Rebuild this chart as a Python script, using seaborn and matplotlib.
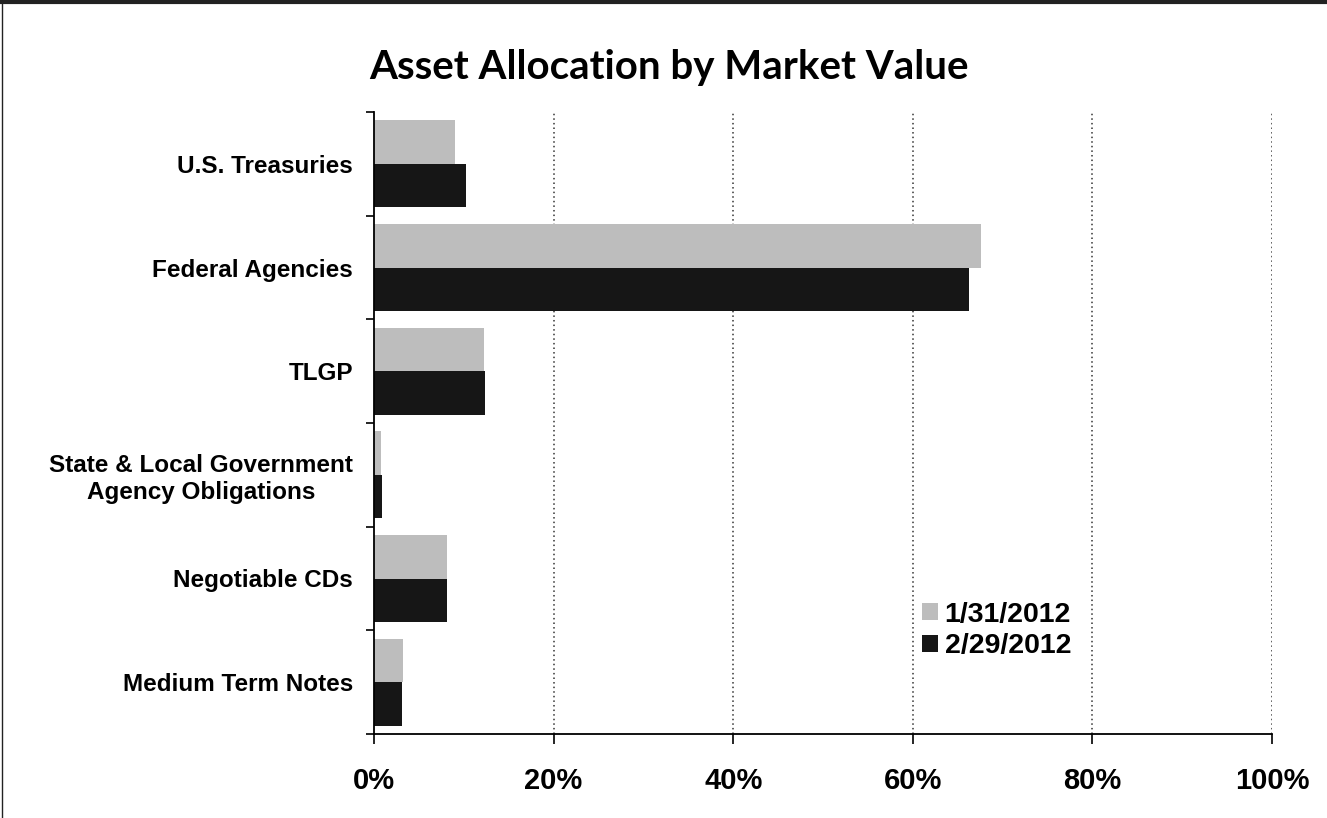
import numpy as np
import pandas as pd
import matplotlib
matplotlib.use("Agg")
import matplotlib.pyplot as plt
from matplotlib.lines import Line2D
from matplotlib.ticker import FixedLocator, FuncFormatter
import seaborn as sns

# ---- data (percent of market value) ----
categories = ["U.S. Treasuries", "Federal Agencies", "TLGP",
              "State & Local Government\nAgency Obligations",
              "Negotiable CDs", "Medium Term Notes"]
dates = ["1/31/2012", "2/29/2012"]
jan_values = [9.0, 67.6, 12.3, 0.8, 8.1, 3.2]
feb_values = [10.3, 66.3, 12.4, 0.9, 8.1, 3.1]
x_ticks = [0, 20, 40, 60, 80, 100]

df = pd.DataFrame({
    "Category": categories * 2,
    "Date": [dates[0]] * len(categories) + [dates[1]] * len(categories),
    "Value": jan_values + feb_values,
})

sns.set_theme(style="white")
plt.rcParams["font.family"] = ["Liberation Sans", "DejaVu Sans"]
plt.rcParams["text.color"] = "black"
plt.rcParams["xtick.color"] = "black"
plt.rcParams["ytick.color"] = "black"

fig = plt.figure(figsize=(13.27, 8.18), dpi=100)
ax = fig.add_axes([374 / 1327, 1 - 734 / 818, 898 / 1327, 622 / 818])

sns.barplot(data=df, y="Category", x="Value", hue="Date", orient="h",
            palette=["#bdbdbd", "#161616"], width=0.84, ax=ax,
            saturation=1, edgecolor="none")

ax.set_xlim(0, 100)
ax.set_ylim(len(categories) - 0.5, -0.5)
ax.set_xlabel("")
ax.set_ylabel("")

# x axis: percent labels, ticks below
ax.set_xticks(x_ticks)
ax.xaxis.set_major_formatter(FuncFormatter(lambda v, p: f"{v:.0f}%"))
ax.tick_params(axis="x", which="major", direction="out", length=7, width=1.2,
               color="black", pad=17, labelsize=21, bottom=True)
for lab in ax.get_xticklabels():
    lab.set_fontweight("bold")

# y axis: tick marks between categories, labels at centres
ax.yaxis.set_major_locator(FixedLocator(np.arange(len(categories) + 1) - 0.5))
ax.yaxis.set_minor_locator(FixedLocator(np.arange(len(categories))))
ax.yaxis.set_major_formatter(FuncFormatter(lambda v, p: ""))
ax.set_yticklabels(categories, minor=True)
ax.tick_params(axis="y", which="major", direction="out", length=6, width=1.2,
               color="black", left=True)
ax.tick_params(axis="y", which="minor", length=0, pad=15, labelsize=17.5)
for lab in ax.get_yticklabels(minor=True):
    lab.set_fontweight("bold")
    lab.set_multialignment("center")

# dotted vertical gridlines
for v in x_ticks[1:]:
    ax.axvline(v, color="#333333", linestyle=(0, (1, 2)), linewidth=1.1, zorder=0)

for side in ["top", "right"]:
    ax.spines[side].set_visible(False)
for side in ["left", "bottom"]:
    ax.spines[side].set_color("black")
    ax.spines[side].set_linewidth(1.3)

leg = ax.legend(loc="upper left", bbox_to_anchor=(0.588, 0.245), frameon=False,
                handlelength=0.55, handleheight=0.55, handletextpad=0.25,
                labelspacing=0.2, borderpad=0.2,
                prop={"weight": "bold", "size": 20.5})

fig.text(0.504, 0.917, "Asset Allocation by Market Value", ha="center", va="center",
         fontsize=29, fontweight="bold", family=["Lato", "DejaVu Sans"])

# page frame
fig.add_artist(Line2D([0, 1], [0.997, 0.997], transform=fig.transFigure,
                      color="#222222", linewidth=3))
fig.add_artist(Line2D([0.0015, 0.0015], [0, 1], transform=fig.transFigure,
                      color="#222222", linewidth=1))

fig.savefig("out.png", dpi=100)
